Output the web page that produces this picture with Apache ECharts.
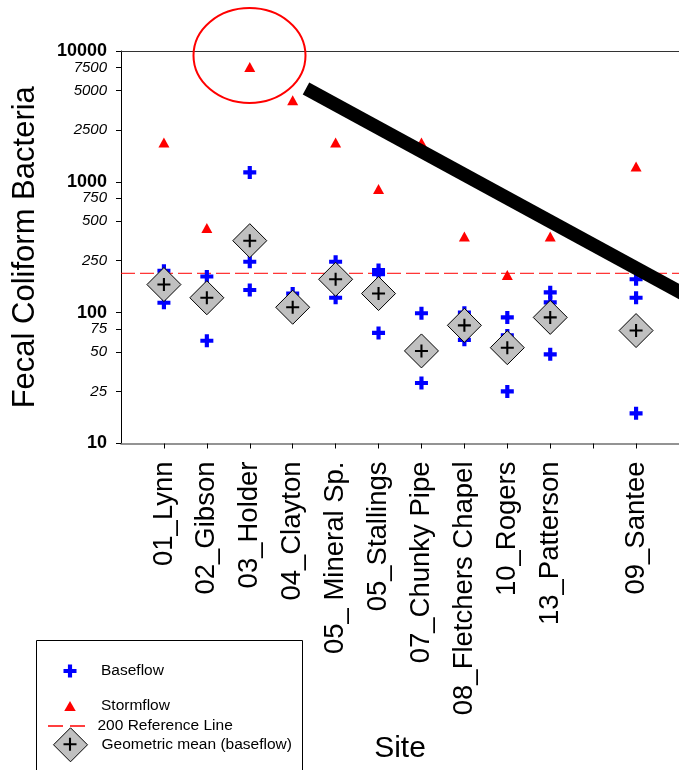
<!DOCTYPE html>
<html>
<head>
<meta charset="utf-8">
<script src="https://cdn.jsdelivr.net/npm/echarts@6/dist/echarts.min.js"></script>
<style>html,body{margin:0;padding:0;background:#fff}#c{width:679px;height:770px}</style>
</head>
<body>
<div id="c"></div>
<script>
const FONT = '"Liberation Sans", Arial, Helvetica, sans-serif';

// x categories (empty slots are padding / the gap before 09_Santee)
const categories = ['', '01_Lynn', '02_Gibson', '03_Holder', '04_Clayton', '05_ Mineral Sp.', '05_Stallings',
  '07_Chunky Pipe', '08_Fletchers Chapel', '10_Rogers', '13_Patterson', '', '09_Santee', ''];

// Baseflow samples [site, value]
const baseflow = [
  ['01_Lynn', 209], ['01_Lynn', 119],
  ['02_Gibson', 189], ['02_Gibson', 61],
  ['03_Holder', 1180], ['03_Holder', 245], ['03_Holder', 149],
  ['04_Clayton', 140], ['04_Clayton', 100], ['04_Clayton', 95],
  ['05_ Mineral Sp.', 245], ['05_ Mineral Sp.', 130],
  ['05_Stallings', 212], ['05_Stallings', 197], ['05_Stallings', 70],
  ['07_Chunky Pipe', 99], ['07_Chunky Pipe', 29],
  ['08_Fletchers Chapel', 100], ['08_Fletchers Chapel', 62],
  ['10_Rogers', 92], ['10_Rogers', 67], ['10_Rogers', 25],
  ['13_Patterson', 143], ['13_Patterson', 120], ['13_Patterson', 48],
  ['09_Santee', 180], ['09_Santee', 130], ['09_Santee', 17]
];

// Stormflow samples [site, value]
const stormflow = [
  ['01_Lynn', 2000], ['02_Gibson', 443], ['03_Holder', 7550], ['04_Clayton', 4200],
  ['05_ Mineral Sp.', 2000], ['05_Stallings', 880], ['07_Chunky Pipe', 2000],
  ['08_Fletchers Chapel', 382], ['10_Rogers', 194], ['13_Patterson', 382], ['09_Santee', 1310]
];

// Geometric mean of baseflow [site, value]
const geomean = [
  ['01_Lynn', 164], ['02_Gibson', 130], ['03_Holder', 355], ['04_Clayton', 110],
  ['05_ Mineral Sp.', 180], ['05_Stallings', 140], ['07_Chunky Pipe', 51],
  ['08_Fletchers Chapel', 80], ['10_Rogers', 54], ['13_Patterson', 92], ['09_Santee', 73]
];

// 200 reference line, spanning the full category range (first to last slot)
const referenceValue = 200;
const referenceLine = [[0, referenceValue], [categories.length - 1, referenceValue]];

const yTickValues = [10, 25, 50, 75, 100, 250, 500, 750, 1000, 2500, 5000, 7500, 10000];
const yMajorValues = [10, 100, 1000, 10000];

const PLUS_THICK = 'path://M3.4,0H6.6V3.4H10V6.6H6.6V10H3.4V6.6H0V3.4H3.4Z';
const PLUS_THIN = 'path://M4.2,0H5.8V4.2H10V5.8H5.8V10H4.2V5.8H0V4.2H4.2Z';
const TRI = 'path://M5,0L10,8.7L0,8.7Z';
const DIAMOND = 'path://M17,0L34,17L17,34L0,17Z';
const DASHES = 'path://M0,0H15V1.5H0Z M22,0H37V1.5H22Z';

const chart = echarts.init(document.getElementById('c'), null, {renderer: 'canvas'});

const legendCommon = {
  orient: 'vertical', padding: 0, itemGap: 0, itemWidth: 52,
  selectedMode: false, symbolKeepAspect: true,
  textStyle: {fontSize: 15.5, color: '#000', fontFamily: FONT}
};

chart.setOption({
  animation: false,
  backgroundColor: '#fff',
  textStyle: {fontFamily: FONT},
  grid: {left: 121, right: -1, top: 51, bottom: 326.5},
  xAxis: [{
    type: 'category', data: categories, boundaryGap: false, position: 'bottom',
    axisLine: {show: true, lineStyle: {color: '#707070', width: 1.5}},
    axisTick: {show: true, length: 5, inside: false, alignWithLabel: true,
      interval: (i) => i >= 1 && i <= 12, lineStyle: {color: '#000', width: 1}},
    axisLabel: {interval: 0, rotate: 90, margin: 18, fontSize: 27.5, color: '#000', fontFamily: FONT},
    splitLine: {show: false},
    name: 'Site', nameLocation: 'middle', nameGap: 290,
    nameTextStyle: {fontSize: 30, color: '#000', fontFamily: FONT}
  }, {
    type: 'category', data: categories, boundaryGap: false, position: 'top',
    axisLine: {show: true, lineStyle: {color: '#333', width: 1}},
    axisTick: {show: false}, axisLabel: {show: false}, splitLine: {show: false}
  }],
  yAxis: {
    type: 'log', logBase: 10, min: 10, max: 10000,
    axisLine: {show: true, lineStyle: {color: '#000', width: 1}},
    axisTick: {show: true, length: 5, inside: false, customValues: yTickValues, lineStyle: {color: '#000', width: 1}},
    axisLabel: {
      customValues: yTickValues, margin: 14, color: '#000',
      formatter: (v) => {
        const r = Math.round(v);
        return yMajorValues.indexOf(r) >= 0 ? '{b|' + r + '}' : '{i|' + r + '}';
      },
      rich: {
        b: {fontWeight: 'bold', fontSize: 18, color: '#000', fontFamily: FONT},
        i: {fontStyle: 'italic', fontSize: 15, color: '#000', fontFamily: FONT}
      }
    },
    splitLine: {show: false},
    name: 'Fecal Coliform Bacteria', nameLocation: 'middle', nameGap: 80,
    nameTextStyle: {fontSize: 31, color: '#000', fontFamily: FONT}
  },
  legend: [
    Object.assign({}, legendCommon, {left: 63.5, top: 663, itemHeight: 13, data: [{name: 'Baseflow', icon: PLUS_THICK}]}),
    Object.assign({}, legendCommon, {left: 64.25, top: 698, itemHeight: 10, data: [{name: 'Stormflow', icon: TRI}]}),
    Object.assign({}, legendCommon, {left: 48, top: 718, itemHeight: 1.5,
      itemStyle: {color: '#ff0000'}, data: [{name: '200 Reference Line', icon: DASHES}]}),
    Object.assign({}, legendCommon, {left: 53, top: 727.3, itemHeight: 34,
      itemStyle: {borderColor: '#000', borderWidth: 1},
      data: [{name: 'Geometric mean (baseflow)', icon: DIAMOND}]}),
    Object.assign({}, legendCommon, {left: 44, top: 737.8, itemHeight: 13, formatter: () => '',
      textStyle: {fontSize: 1, color: '#000'},
      data: [{name: 'gm-cross', icon: PLUS_THIN}]})
  ],
  series: [
    {
      name: 'Baseflow', type: 'scatter', data: baseflow,
      symbol: PLUS_THICK, symbolSize: 13, itemStyle: {color: '#0000ff', opacity: 1}
    },
    {
      name: 'Stormflow', type: 'scatter', data: stormflow,
      symbol: 'triangle', symbolSize: [11, 10], itemStyle: {color: '#ff0000', opacity: 1}
    },
    {
      // legend swatch source for the reference line
      name: '200 Reference Line', type: 'scatter', data: [],
      itemStyle: {color: '#ff0000', opacity: 1}
    },
    {
      name: '200 Reference Line', type: 'line', data: referenceLine,
      symbol: 'none', silent: true, z: 2,
      lineStyle: {color: '#ff0000', type: [14, 5], width: 1, opacity: 1},
      itemStyle: {color: '#ff0000'},
      emphasis: {disabled: true}
    },
    {
      name: 'Geometric mean (baseflow)', type: 'scatter', data: geomean,
      symbol: 'diamond', symbolSize: 34, z: 3,
      itemStyle: {color: '#c0c0c0', borderColor: '#000', borderWidth: 1, opacity: 1}
    },
    {
      name: 'gm-cross', type: 'scatter', data: geomean, z: 4,
      symbol: PLUS_THIN, symbolSize: 13, itemStyle: {color: '#000', opacity: 1}
    }
  ],
  graphic: [
    {type: 'rect', z: 0, shape: {x: 36.5, y: 640.5, width: 266, height: 200},
      style: {fill: 'none', stroke: '#000', lineWidth: 1}},
    {type: 'ellipse', z: 100, shape: {cx: 249.5, cy: 55.5, rx: 56, ry: 47.5},
      style: {fill: 'none', stroke: '#ff0000', lineWidth: 2}},
    {type: 'line', z: 100, shape: {x1: 306, y1: 88.5, x2: 690, y2: 297.5},
      style: {stroke: '#000', lineWidth: 13.5, lineCap: 'butt'}}
  ]
});
</script>
</body>
</html>
